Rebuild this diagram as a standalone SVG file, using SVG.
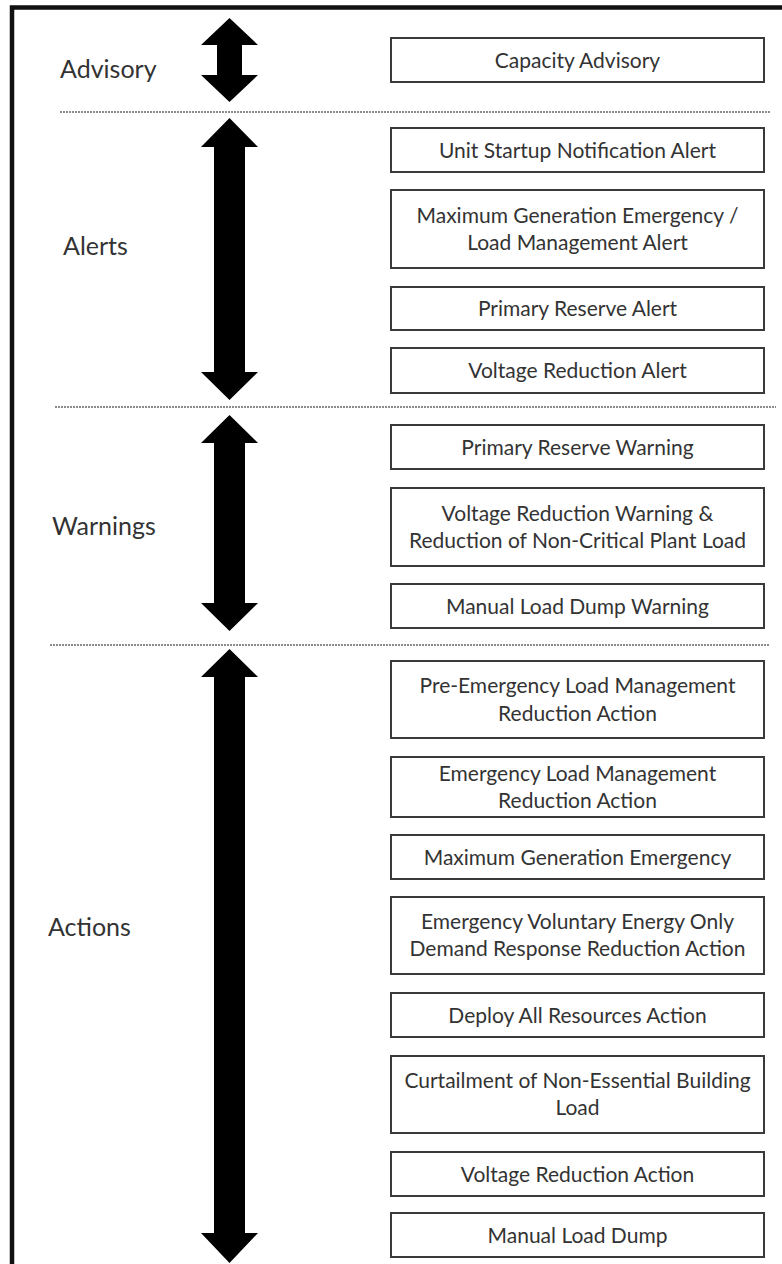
<svg xmlns="http://www.w3.org/2000/svg" width="782" height="1264" viewBox="0 0 782 1264">
<style>
.frame{fill:none;stroke:#111;stroke-width:4.5}
.sep{stroke:#666;stroke-width:1.5;stroke-dasharray:2 1;fill:none}
.arr{fill:#000}
.box{fill:#fff;stroke:#3a3a3a;stroke-width:2}
.bt{font-family:Lato,"Open Sans",sans-serif;font-size:21px;fill:#333;text-anchor:middle}
.lbl{font-family:Lato,"Open Sans",sans-serif;font-size:25px;fill:#333}
</style>
<rect width="782" height="1264" fill="#fff"/>
<path class="frame" d="M12,1264 V7.5 H782"/>
<g id="separators">
<line class="sep" x1="60" y1="112" x2="770" y2="112"/>
<line class="sep" x1="55" y1="407" x2="776" y2="407"/>
<line class="sep" x1="50" y1="645" x2="770" y2="645"/>
</g>
<g id="connectors">
<polygon class="arr" points="229.5,18 258,45 242,45 242,75 258,75 229.5,102 201,75 217,75 217,45 201,45"/>
<polygon class="arr" points="229.5,118 258,147 245,147 245,372 258,372 229.5,400 201,372 214,372 214,147 201,147"/>
<polygon class="arr" points="229.5,415 258,443 245,443 245,603 258,603 229.5,631 201,603 214,603 214,443 201,443"/>
<polygon class="arr" points="229.5,649 258,677 245,677 245,1233 258,1233 229.5,1263 201,1233 214,1233 214,677 201,677"/>
</g>
<g id="labels">
<text id="lbl-advisory" class="lbl" x="60" y="78">Advisory</text>
<text id="lbl-alerts" class="lbl" x="63" y="255">Alerts</text>
<text id="lbl-warnings" class="lbl" x="52" y="535">Warnings</text>
<text id="lbl-actions" class="lbl" x="48" y="936">Actions</text>
</g>
<g id="n1"><rect class="box" x="391" y="38" width="373" height="44"/><text class="bt" x="577.5" y="67.5">Capacity Advisory</text></g>
<g id="n2"><rect class="box" x="391" y="128" width="373" height="44"/><text class="bt" x="577.5" y="157.5">Unit Startup Notification Alert</text></g>
<g id="n3"><rect class="box" x="391" y="190" width="373" height="78"/><text class="bt" x="577.5" y="222.5">Maximum Generation Emergency /</text><text class="bt" x="577.5" y="250">Load Management Alert</text></g>
<g id="n4"><rect class="box" x="391" y="287" width="373" height="43"/><text class="bt" x="577.5" y="316">Primary Reserve Alert</text></g>
<g id="n5"><rect class="box" x="391" y="348" width="373" height="45"/><text class="bt" x="577.5" y="378">Voltage Reduction Alert</text></g>
<g id="n6"><rect class="box" x="391" y="425" width="373" height="44"/><text class="bt" x="577.5" y="454.5">Primary Reserve Warning</text></g>
<g id="n7"><rect class="box" x="391" y="488" width="373" height="78"/><text class="bt" x="577.5" y="520.5">Voltage Reduction Warning &amp;</text><text class="bt" x="577.5" y="548">Reduction of Non-Critical Plant Load</text></g>
<g id="n8"><rect class="box" x="391" y="584" width="373" height="44"/><text class="bt" x="577.5" y="613.5">Manual Load Dump Warning</text></g>
<g id="n9"><rect class="box" x="391" y="661" width="373" height="77"/><text class="bt" x="577.5" y="693">Pre-Emergency Load Management</text><text class="bt" x="577.5" y="720.5">Reduction Action</text></g>
<g id="n10"><rect class="box" x="391" y="757" width="373" height="60"/><text class="bt" x="577.5" y="781">Emergency Load Management</text><text class="bt" x="577.5" y="808">Reduction Action</text></g>
<g id="n11"><rect class="box" x="391" y="835" width="373" height="44"/><text class="bt" x="577.5" y="864.5">Maximum Generation Emergency</text></g>
<g id="n12"><rect class="box" x="391" y="897" width="373" height="77"/><text class="bt" x="577.5" y="929">Emergency Voluntary Energy Only</text><text class="bt" x="577.5" y="956">Demand Response Reduction Action</text></g>
<g id="n13"><rect class="box" x="391" y="993" width="373" height="44"/><text class="bt" x="577.5" y="1022.5">Deploy All Resources Action</text></g>
<g id="n14"><rect class="box" x="391" y="1056" width="373" height="77"/><text class="bt" x="577.5" y="1088">Curtailment of Non-Essential Building</text><text class="bt" x="577.5" y="1115">Load</text></g>
<g id="n15"><rect class="box" x="391" y="1152" width="373" height="44"/><text class="bt" x="577.5" y="1181.5">Voltage Reduction Action</text></g>
<g id="n16"><rect class="box" x="391" y="1213" width="373" height="44"/><text class="bt" x="577.5" y="1242.5">Manual Load Dump</text></g>
</svg>
